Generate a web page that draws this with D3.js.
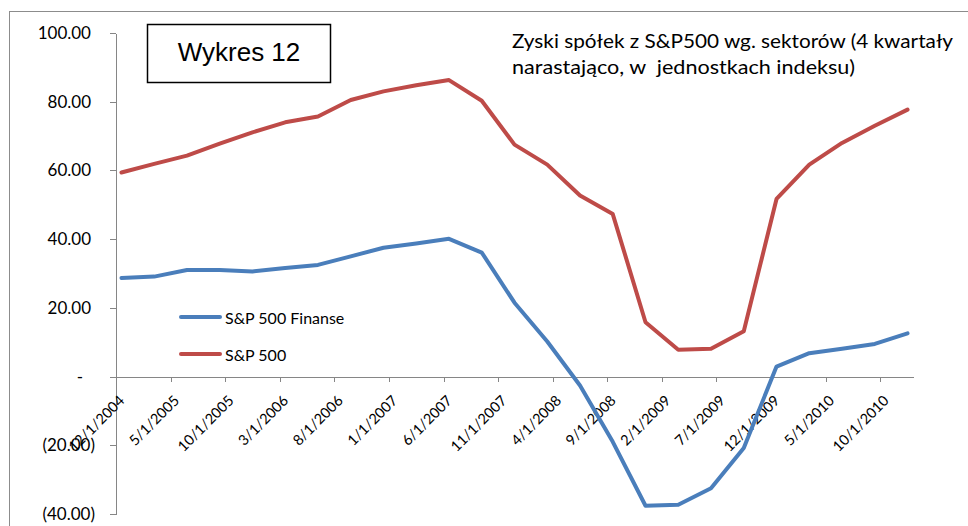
<!DOCTYPE html>
<html>
<head>
<meta charset="utf-8">
<script src="https://cdn.jsdelivr.net/npm/d3@7"></script>
<style>
  body { margin: 0; background: #fff; }
  svg text { font-family: Lato, "Open Sans", sans-serif; fill: #000; }
  .axis path, .axis line { stroke: #868686; stroke-width: 1; shape-rendering: crispEdges; }
</style>
</head>
<body>
<svg id="chart" width="968" height="526"></svg>
<script>
// quarterly points, Excel date axis with month base unit
var dates = ["12/1/2004", "3/1/2005", "6/1/2005", "9/1/2005", "12/1/2005",
  "3/1/2006", "6/1/2006", "9/1/2006", "12/1/2006", "3/1/2007", "6/1/2007",
  "9/1/2007", "12/1/2007", "3/1/2008", "6/1/2008", "9/1/2008", "12/1/2008",
  "3/1/2009", "6/1/2009", "9/1/2009", "12/1/2009", "3/1/2010", "6/1/2010",
  "9/1/2010", "12/1/2010"];

var finanse = [28.7, 29.1, 31.0, 31.0, 30.6, 31.6, 32.5, 35.0, 37.5, 38.7, 40.1,
  36.1, 21.5, 10.2, -2.6, -19.0, -37.6, -37.3, -32.5, -20.8, 2.9, 6.8, 8.1, 9.5, 12.6];

var sp500 = [59.4, 61.9, 64.3, 67.8, 71.1, 74.0, 75.7, 80.5, 83.0, 84.8, 86.3,
  80.3, 67.5, 61.7, 52.7, 47.3, 15.8, 7.8, 8.1, 13.2, 51.7, 61.7, 68.0, 73.0, 77.7];

var seriesNames = ["S&P 500 Finanse", "S&P 500"];
var seriesColors = ["#4A7EBB", "#BE4B48"];

var yTicks = [-40, -20, 0, 20, 40, 60, 80, 100];
var xTickLabels = ["12/1/2004", "5/1/2005", "10/1/2005", "3/1/2006", "8/1/2006",
  "1/1/2007", "6/1/2007", "11/1/2007", "4/1/2008", "9/1/2008", "2/1/2009",
  "7/1/2009", "12/1/2009", "5/1/2010", "10/1/2010"];

var chartTitle = "Wykres 12";
var subtitle = ["Zyski spółek z S&P500 wg. sektorów (4 kwartały",
  "narastająco, w  jednostkach indeksu)"];

// months since 12/2004
function monthIndex(s) {
  var p = s.split("/");
  return (+p[2] - 2004) * 12 + (+p[0] - 12);
}

var svg = d3.select("#chart");

// outer chart frame (right/bottom run off the picture)
svg.append("rect")
  .attr("x", 9.5).attr("y", 11.5)
  .attr("width", 1000).attr("height", 600)
  .attr("fill", "none").attr("stroke", "#8c8c8c");

var xScale = d3.scaleLinear().domain([0, 73]).range([116, 913]);
var yScale = d3.scaleLinear().domain([-40, 100]).range([514, 33]);

var fmt = d3.format(".2f");

// y axis
var yAxis = svg.append("g")
  .attr("class", "axis")
  .attr("transform", "translate(116,0)")
  .call(d3.axisLeft(yScale).tickValues(yTicks).tickSize(6).tickSizeOuter(0)
    .tickFormat(function (d) {
      if (d === 0) return "-";
      if (d < 0) return "(" + fmt(-d) + ")";
      return fmt(d);
    }));

yAxis.selectAll("text")
  .attr("font-size", 17)
  .attr("x", function (d) {
    if (d === 0) return -33;
    if (d < 0) return -21;
    return -25;
  });

// x axis sits on zero
var xAxis = svg.append("g")
  .attr("class", "axis")
  .attr("transform", "translate(0," + yScale(0) + ")")
  .call(d3.axisBottom(xScale)
    .tickValues(xTickLabels.map(monthIndex))
    .tickSize(5).tickSizeOuter(0)
    .tickFormat(function (d, i) { return xTickLabels[i]; }));

xAxis.selectAll("text")
  .attr("font-size", 14.5)
  .attr("x", 0).attr("y", 0).attr("dy", 0)
  .attr("text-anchor", "end")
  .attr("transform", "translate(9,25) rotate(-45)");

// series lines
var series = [finanse, sp500];
var line = d3.line()
  .x(function (d, i) { return xScale(monthIndex(dates[i]) + 0.5); })
  .y(function (d) { return yScale(d); });

series.forEach(function (values, k) {
  svg.append("path")
    .datum(values)
    .attr("d", line)
    .attr("fill", "none")
    .attr("stroke", seriesColors[k])
    .attr("stroke-width", 4)
    .attr("stroke-linejoin", "round")
    .attr("stroke-linecap", "round");
});

// legend
var legendY = [317, 354];
seriesNames.forEach(function (name, k) {
  svg.append("line")
    .attr("x1", 181).attr("x2", 220)
    .attr("y1", legendY[k]).attr("y2", legendY[k])
    .attr("stroke", seriesColors[k])
    .attr("stroke-width", 4)
    .attr("stroke-linecap", "round");
  svg.append("text")
    .attr("x", 225).attr("y", legendY[k] + 7)
    .attr("font-size", 16)
    .text(name);
});

// title box
svg.append("rect")
  .attr("x", 147.5).attr("y", 24.5)
  .attr("width", 183).attr("height", 58)
  .attr("fill", "#fff").attr("stroke", "#000").attr("stroke-width", 1.5);
svg.append("text")
  .attr("x", 239).attr("y", 61)
  .attr("text-anchor", "middle")
  .style("font-family", "'Liberation Sans', Arial, sans-serif")
  .attr("font-size", 26)
  .text(chartTitle);

// subtitle, two lines
var subLen = [441, 343];
subtitle.forEach(function (s, i) {
  svg.append("text")
    .attr("x", 512).attr("y", 48 + i * 26)
    .attr("font-size", 20)
    .attr("textLength", subLen[i])
    .attr("lengthAdjust", "spacingAndGlyphs")
    .style("white-space", "pre")
    .text(s);
});
</script>
</body>
</html>
